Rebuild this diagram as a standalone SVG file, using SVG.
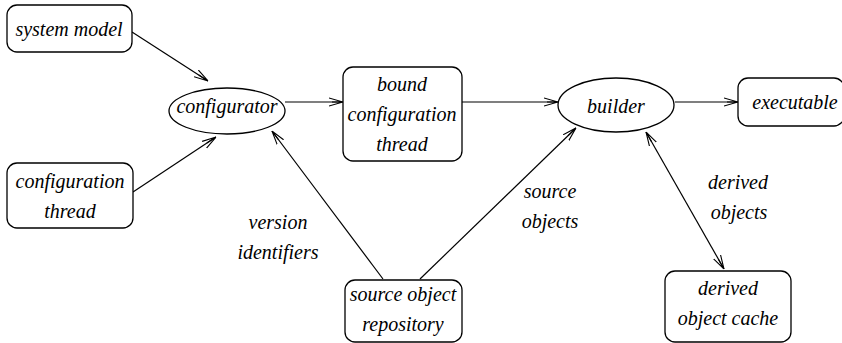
<svg xmlns="http://www.w3.org/2000/svg" width="842" height="343" viewBox="0 0 842 343">
<defs>
<marker id="a" viewBox="0 0 14 10" refX="14" refY="5" markerWidth="14" markerHeight="10" markerUnits="userSpaceOnUse" orient="auto-start-reverse">
<path d="M0,1 L14,5 L0,9 M3,5 L14,5" fill="none" stroke="#000" stroke-width="1.1"/>
</marker>
</defs>
<rect width="842" height="343" fill="#fff"/>
<g id="connectors" fill="none" stroke="#000" stroke-width="1.2">
<line x1="132" y1="32" x2="208" y2="81" marker-end="url(#a)"/>
<line x1="133" y1="192" x2="216" y2="137" marker-end="url(#a)"/>
<line x1="285" y1="102" x2="343" y2="102" marker-end="url(#a)"/>
<line x1="462" y1="102" x2="558" y2="102" marker-end="url(#a)"/>
<line x1="675" y1="102" x2="738" y2="102" marker-end="url(#a)"/>
<line x1="383" y1="279" x2="272" y2="131" marker-end="url(#a)"/>
<line x1="420" y1="279" x2="576" y2="128" marker-end="url(#a)"/>
<line x1="646" y1="132" x2="724" y2="269" marker-start="url(#a)" marker-end="url(#a)"/>
</g>
<g id="edge-labels" text-anchor="middle" fill="#000">
<text x="278" y="229" font-family="serif" font-style="italic" font-size="20">version</text>
<text x="278" y="259" font-family="serif" font-style="italic" font-size="20">identifiers</text>
<text x="550" y="198" font-family="serif" font-style="italic" font-size="20">source</text>
<text x="550" y="228" font-family="serif" font-style="italic" font-size="20">objects</text>
<text x="738" y="189" font-family="serif" font-style="italic" font-size="20">derived</text>
<text x="739" y="219" font-family="serif" font-style="italic" font-size="20">objects</text>
</g>
<g id="system-model">
<rect x="7" y="5" width="125" height="47" rx="10" fill="#fff" stroke="#000" stroke-width="1.3"/>
<text x="69" y="36" text-anchor="middle" font-family="serif" font-style="italic" font-size="20">system model</text>
</g>
<g id="configuration-thread">
<rect x="7" y="163" width="126" height="65" rx="10" fill="#fff" stroke="#000" stroke-width="1.3"/>
<text x="70" y="188" text-anchor="middle" font-family="serif" font-style="italic" font-size="20">configuration</text>
<text x="70" y="218" text-anchor="middle" font-family="serif" font-style="italic" font-size="20">thread</text>
</g>
<g id="configurator">
<ellipse cx="227" cy="111" rx="58" ry="23" fill="#fff" stroke="#000" stroke-width="1.3"/>
<text x="227" y="113" text-anchor="middle" font-family="serif" font-style="italic" font-size="20">configurator</text>
</g>
<g id="bound-configuration-thread">
<rect x="343" y="67" width="119" height="94" rx="10" fill="#fff" stroke="#000" stroke-width="1.3"/>
<text x="402" y="91" text-anchor="middle" font-family="serif" font-style="italic" font-size="20">bound</text>
<text x="402" y="121" text-anchor="middle" font-family="serif" font-style="italic" font-size="20">configuration</text>
<text x="402" y="151" text-anchor="middle" font-family="serif" font-style="italic" font-size="20">thread</text>
</g>
<g id="builder">
<ellipse cx="616" cy="105" rx="58" ry="27" fill="#fff" stroke="#000" stroke-width="1.3"/>
<text x="616" y="113" text-anchor="middle" font-family="serif" font-style="italic" font-size="20">builder</text>
</g>
<g id="executable">
<rect x="738" y="78" width="106" height="48" rx="10" fill="#fff" stroke="#000" stroke-width="1.3"/>
<text x="795" y="109" text-anchor="middle" font-family="serif" font-style="italic" font-size="20">executable</text>
</g>
<g id="derived-object-cache">
<rect x="665" y="271" width="126" height="71" rx="10" fill="#fff" stroke="#000" stroke-width="1.3"/>
<text x="728" y="295" text-anchor="middle" font-family="serif" font-style="italic" font-size="20">derived</text>
<text x="728" y="325" text-anchor="middle" font-family="serif" font-style="italic" font-size="20">object cache</text>
</g>
<g id="source-object-repository">
<rect x="345" y="280" width="117" height="62" rx="10" fill="#fff" stroke="#000" stroke-width="1.3"/>
<text x="403" y="301" text-anchor="middle" font-family="serif" font-style="italic" font-size="20">source object</text>
<text x="403" y="331" text-anchor="middle" font-family="serif" font-style="italic" font-size="20">repository</text>
</g>
</svg>
